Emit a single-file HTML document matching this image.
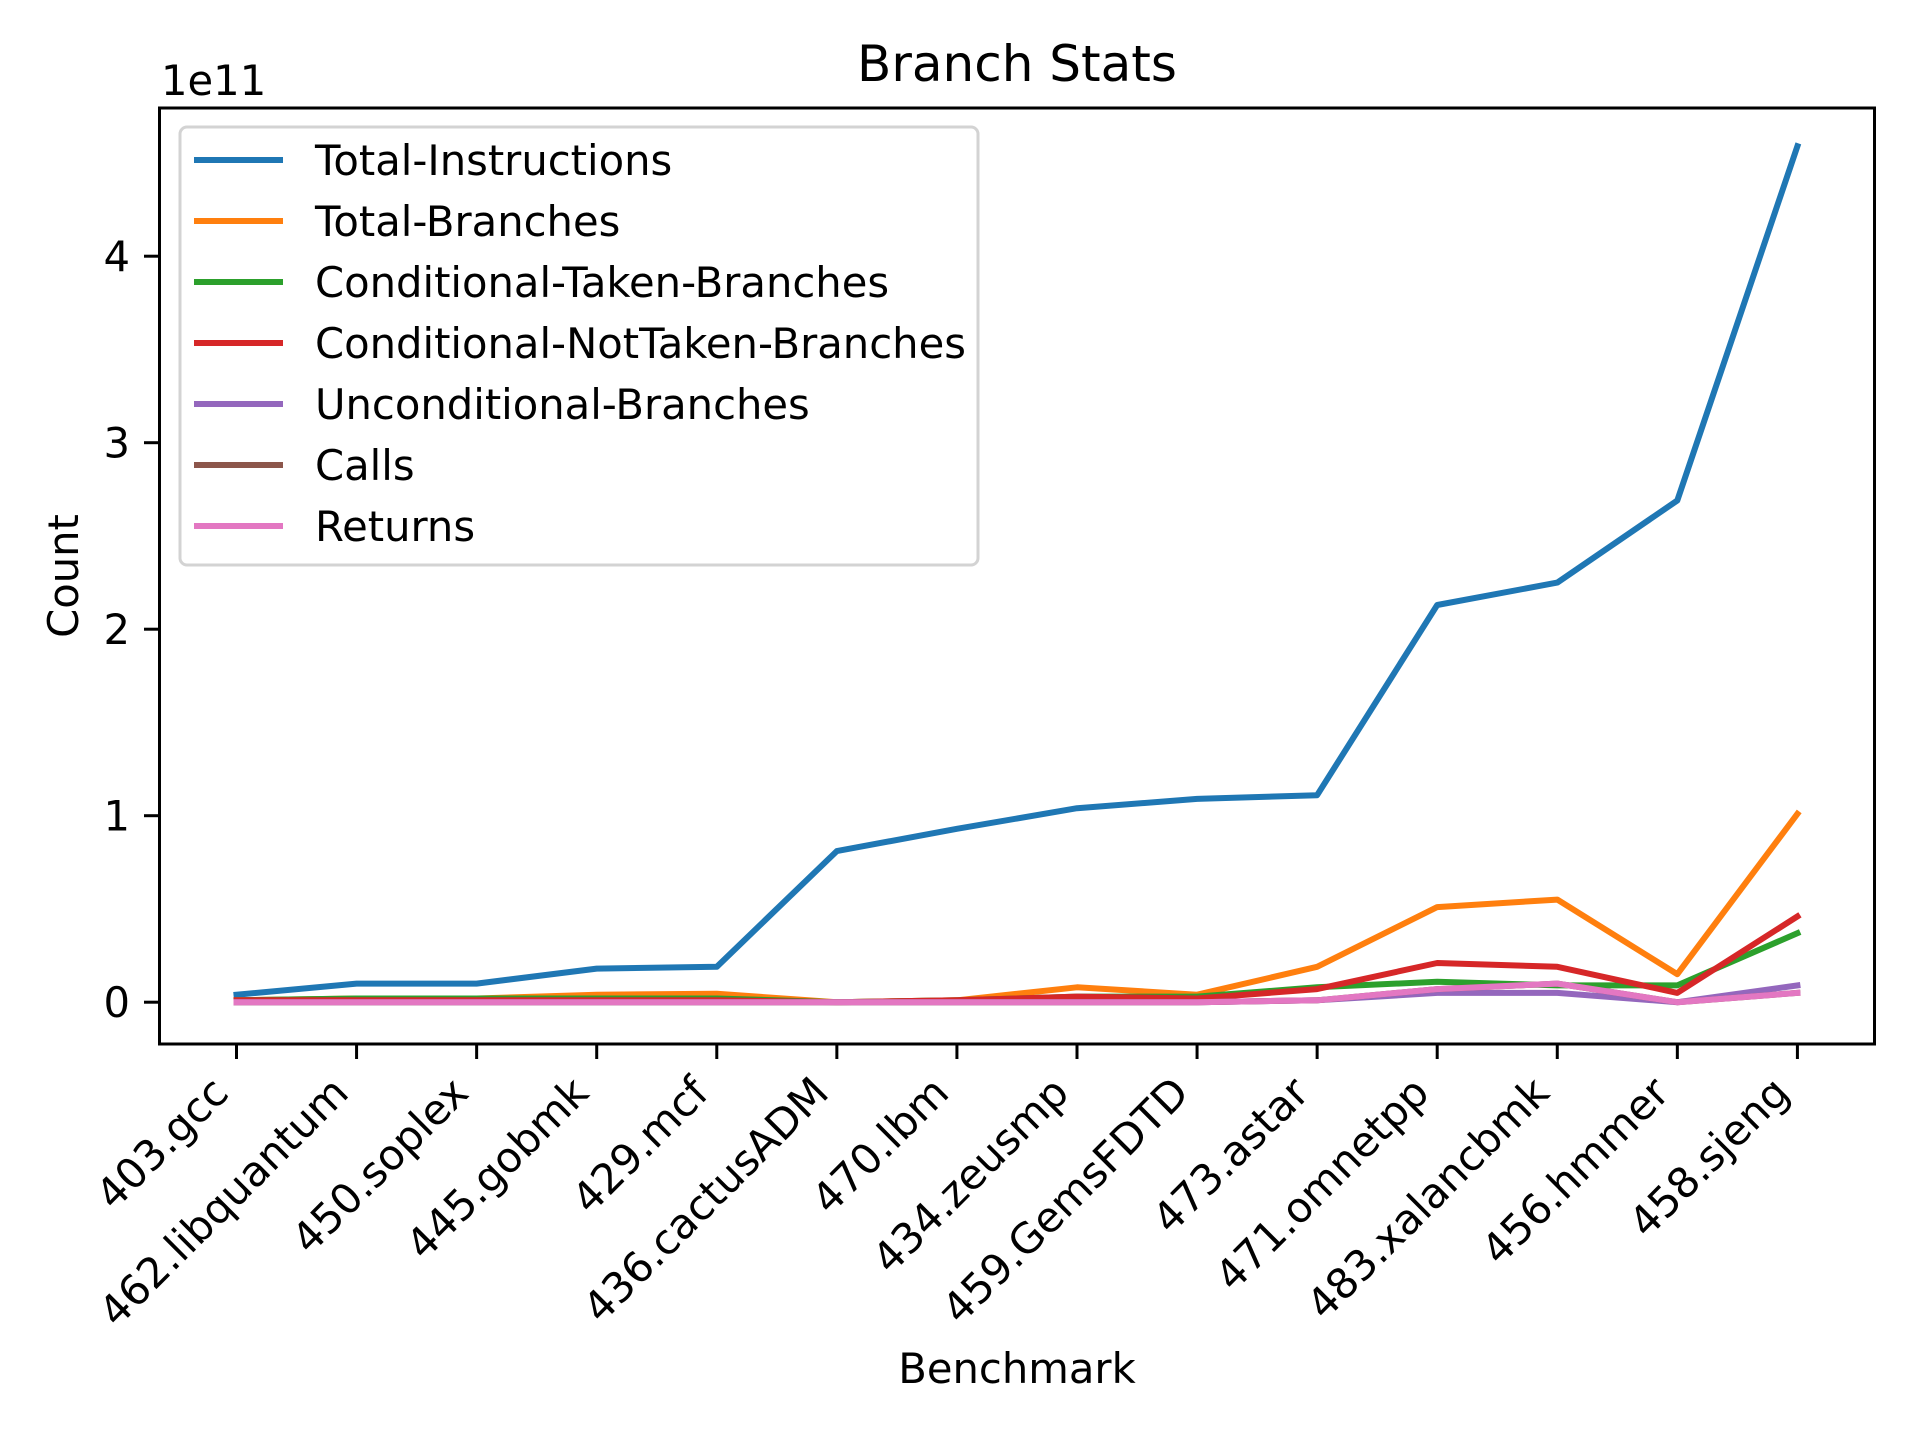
<!DOCTYPE html>
<html><head><meta charset="utf-8"><style>
html,body{margin:0;padding:0;background:#fff;}
svg{display:block;font-family:"DejaVu Sans","Liberation Sans",sans-serif;}
</style></head><body>
<svg id="chart" width="1920" height="1440" viewBox="0 0 1920 1440" xmlns="http://www.w3.org/2000/svg">
<rect width="1920" height="1440" fill="#fff"/>
<text x="1017" y="81" font-size="50" text-anchor="middle">Branch Stats</text>
<text x="161" y="95" font-size="41.7">1e11</text>
<text x="1017" y="1383" font-size="41.7" text-anchor="middle">Benchmark</text>
<text transform="translate(78,576) rotate(-90)" font-size="41.7" text-anchor="middle">Count</text>
<g id="plot"></g>
<g id="xticks"></g>
<g id="yticks"></g>
<rect x="159.5" y="108" width="1715" height="936" fill="none" stroke="#000" stroke-width="3"/>
<g id="legend"></g>
</svg>
<script>
const categories = ["403.gcc","462.libquantum","450.soplex","445.gobmk","429.mcf","436.cactusADM","470.lbm","434.zeusmp","459.GemsFDTD","473.astar","471.omnetpp","483.xalancbmk","456.hmmer","458.sjeng"];
const seriesNames = ["Total-Instructions","Total-Branches","Conditional-Taken-Branches","Conditional-NotTaken-Branches","Unconditional-Branches","Calls","Returns"];
const totalInstructions = [0.04,0.10,0.10,0.18,0.19,0.81,0.93,1.04,1.09,1.11,2.13,2.25,2.69,4.59];
const totalBranches = [0.01,0.02,0.02,0.04,0.045,0.0,0.01,0.08,0.04,0.19,0.51,0.55,0.15,1.01];
const condTaken = [0.01,0.02,0.02,0.02,0.02,0.0,0.01,0.03,0.03,0.08,0.11,0.09,0.09,0.37];
const condNotTaken = [0.01,0.01,0.01,0.01,0.01,0.0,0.01,0.03,0.02,0.07,0.21,0.19,0.05,0.46];
const uncond = [0.0,0.0,0.0,0.0,0.0,0.0,0.0,0.0,0.0,0.01,0.05,0.05,0.0,0.09];
const calls = [0.0,0.0,0.0,0.0,0.0,0.0,0.0,0.0,0.0,0.01,0.07,0.10,0.0,0.05];
const returns = [0.0,0.0,0.0,0.0,0.0,0.0,0.0,0.0,0.0,0.01,0.07,0.10,0.0,0.05];
const yTicks = [0,1,2,3,4];

const colors = ["#1f77b4","#ff7f0e","#2ca02c","#d62728","#9467bd","#8c564b","#e377c2"];
const allSeries = [totalInstructions,totalBranches,condTaken,condNotTaken,uncond,calls,returns];
const NS = "http://www.w3.org/2000/svg";
const xScale = i => 236.5 + i * 120.07;
const yScale = v => 1002.2 - v * 186.5;
function mk(tag, attrs, parent){const e=document.createElementNS(NS,tag);for(const k in attrs)e.setAttribute(k,attrs[k]);parent.appendChild(e);return e;}

const plot = document.getElementById('plot');
allSeries.forEach((s, si) => {
  const pts = s.map((v,i)=>xScale(i).toFixed(1)+","+yScale(v).toFixed(1)).join(" ");
  const pl = mk('polyline',{points:pts,fill:"none",stroke:colors[si],"stroke-width":"6","stroke-linejoin":"round","stroke-linecap":"square"},plot);
  
  
});

const xt = document.getElementById('xticks');
categories.forEach((c,i)=>{
  const x = xScale(i);
  const t = mk('line',{x1:x,x2:x,y1:1044,y2:1059,stroke:"#000","stroke-width":"3"},xt);
  
  
  const lb = mk('text',{transform:`translate(${x-6},1095) rotate(-45)`,"font-size":"41.7","text-anchor":"end"},xt);
  lb.textContent = c;
  
  
});

const yt = document.getElementById('yticks');
yTicks.forEach(v=>{
  const y = yScale(v);
  const t = mk('line',{x1:144,x2:159,y1:y,y2:y,stroke:"#000","stroke-width":"3"},yt);
  
  
  const lb = mk('text',{x:130,y:y+15,"font-size":"41.7","text-anchor":"end"},yt);
  lb.textContent = String(v);
  
  
});

const lg = document.getElementById('legend');
const box = mk('rect',{x:180,y:127,width:798,height:438,rx:7,fill:"#fff","fill-opacity":"0.8",stroke:"#d3d3d3","stroke-width":"3"},lg);


seriesNames.forEach((n,i)=>{
  const y = 160 + i*61;
  const g = mk('g',{},lg);
  
  
  mk('line',{x1:194,x2:283,y1:y,y2:y,stroke:colors[i],"stroke-width":"6"},g);
  const t = mk('text',{x:315,y:y+15,"font-size":"41.7"},g);
  t.textContent = n;
});
</script>
</body></html>
